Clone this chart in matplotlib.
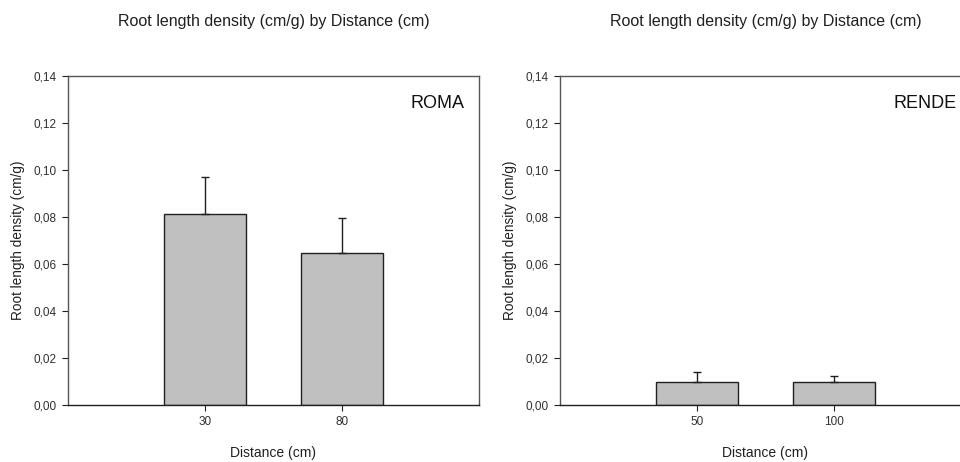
import matplotlib as mpl
mpl.use('Agg')
import matplotlib.pyplot as plt
from matplotlib.ticker import FuncFormatter

plt.rcParams['font.family'] = ['Liberation Sans', 'DejaVu Sans']

title = 'Root length density (cm/g) by Distance (cm)'
ylabel = 'Root length density (cm/g)'
xlabel = 'Distance (cm)'

roma_dist = ['30', '80']
roma_mean = [0.0813, 0.0647]
roma_err = [0.0158, 0.0150]

rende_dist = ['50', '100']
rende_mean = [0.0099, 0.0097]
rende_err = [0.0043, 0.0028]

yticks = [0.00, 0.02, 0.04, 0.06, 0.08, 0.10, 0.12, 0.14]

comma = FuncFormatter(lambda v, p: ('%.2f' % v).replace('.', ','))

fig = plt.figure(figsize=(9.6, 4.62), dpi=100)
ax1 = fig.add_axes([68/960, 57/462, 411/960, 329/462])
ax2 = fig.add_axes([560/960, 57/462, 411/960, 329/462])

for ax, dist, mean, err, site in [(ax1, roma_dist, roma_mean, roma_err, 'ROMA'),
                                  (ax2, rende_dist, rende_mean, rende_err, 'RENDE')]:
    pos = list(range(len(dist)))
    ax.bar(pos, mean, width=0.6, color='#c0c0c0', edgecolor='#202020', linewidth=1.0, zorder=2)
    ax.errorbar(pos, mean, yerr=[[0, 0], err], fmt='none', ecolor='#202020',
                elinewidth=1.0, capsize=3, capthick=1.0, zorder=3)
    ax.set_xlim(-1, 2)
    ax.set_ylim(0, 0.14)
    ax.set_xticks(pos)
    ax.set_xticklabels(dist)
    ax.set_yticks(yticks)
    ax.yaxis.set_major_formatter(comma)
    ax.tick_params(labelsize=8.5, length=4, width=0.8, color='#202020',
                   labelcolor='#303030', pad=4)
    for s in ax.spines.values():
        s.set_color('#555555')
        s.set_linewidth(1.0)
    ax.spines['bottom'].set_color('#202020')
    ax.set_title(title, fontsize=11.5, pad=36, color='#202020')
    ax.set_ylabel(ylabel, fontsize=9.8, labelpad=6, color='#202020')
    ax.set_xlabel(xlabel, fontsize=10, labelpad=13, color='#202020')
    ax.text(0.965, 0.915, site, transform=ax.transAxes, ha='right', va='center',
            fontsize=13, color='#101010')

fig.savefig('out.png', dpi=100)
